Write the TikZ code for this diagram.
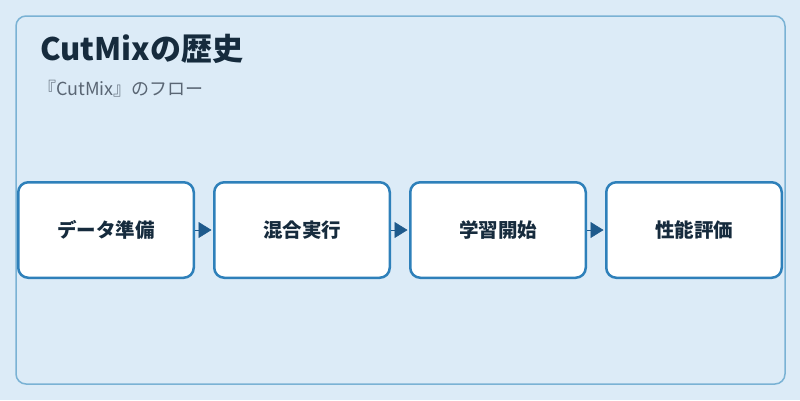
\documentclass[tikz,border=0pt]{standalone}
\usepackage{fontspec}
\setmainfont{Noto Sans CJK JP}
\usetikzlibrary{arrows.meta}

\begin{document}
\begin{tikzpicture}[x=1pt,y=-1pt,
  stepbox/.style={draw=boxColor,line width=2.5pt,fill=white,rounded corners=10pt,
    minimum width=175.5pt,minimum height=95.5pt,inner sep=0pt,
    text=titleColor,font=\bfseries\fontsize{19.5}{22}\selectfont},
  flowarrow/.style={draw=arrowColor,line width=0.6pt,
    -{Triangle[length=13pt,width=16pt]},shorten >=1.5pt}]
\definecolor{bgColor}{RGB}{220,235,247}
\definecolor{frameColor}{RGB}{122,178,212}
\definecolor{boxColor}{RGB}{46,128,186}
\definecolor{arrowColor}{RGB}{30,90,140}
\definecolor{titleColor}{RGB}{22,43,61}
\definecolor{subColor}{RGB}{90,102,116}

\path[use as bounding box,fill=bgColor] (0,0) rectangle (800,400);

\path[draw=frameColor,line width=1.5pt,rounded corners=10pt] ( 16.00, 16.00) rectangle (785.00,384.00);

\node[text=titleColor,anchor=base west,inner sep=0pt,outer sep=0pt,font=\bfseries\fontsize{31}{36}\selectfont] (title) at ( 40.00, 60.00) {CutMixの歴史};

\node[text=subColor,anchor=base west,inner sep=0pt,outer sep=0pt,font=\fontsize{18}{21}\selectfont] (subtitle) at ( 38.00, 95.50) {『CutMix』のフロー};

\node[stepbox] (prep) at (106.00,230.00) {データ準備};

\node[stepbox] (mix) at (302.00,230.00) {混合実行};

\node[stepbox] (train) at (498.00,230.00) {学習開始};

\node[stepbox] (eval) at (694.00,230.00) {性能評価};

\draw[flowarrow] (prep) -- (mix);

\draw[flowarrow] (mix) -- (train);

\draw[flowarrow] (train) -- (eval);
\end{tikzpicture}
\end{document}
